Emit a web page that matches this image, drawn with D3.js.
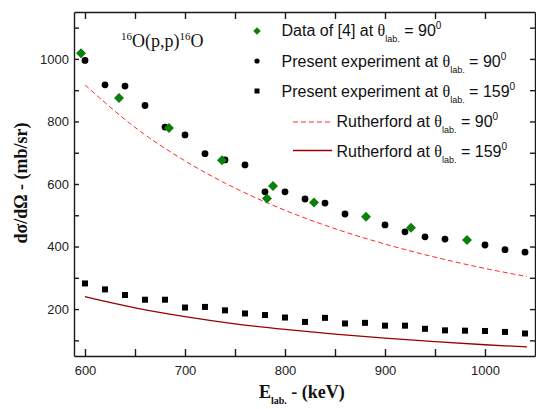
<!DOCTYPE html>
<html>
<head>
<meta charset="utf-8">
<script src="https://cdn.jsdelivr.net/npm/d3@7"></script>
<style>
body { margin: 0; background: #fff; }
</style>
</head>
<body>
<div id="chart-area"></div>
<script>
// dados
var dataE = [596, 634, 684, 737, 782, 788, 829, 881, 926, 982];
var dataV = [1018, 875, 779, 676, 554, 594, 541, 495, 460, 421];

var exp90E = [600, 620, 640, 660, 680, 700, 720, 740, 760, 780, 800, 820, 840, 860, 900, 920, 940, 960, 1000, 1020, 1040];
var exp90V = [995, 917, 913, 851, 782, 757, 697, 677, 661, 575, 575, 552, 539, 504, 469, 447, 431, 424, 405, 390, 382];

var exp159E = [600, 620, 640, 660, 680, 700, 720, 740, 760, 780, 800, 820, 840, 860, 880, 900, 920, 940, 960, 980, 1000, 1020, 1040];
var exp159V = [282, 263, 245, 230, 230, 205, 207, 196, 186, 181, 173, 159, 172, 154, 156, 147, 147, 137, 132, 131, 130, 127, 122];

var rutE = [600, 650, 700, 750, 800, 850, 900, 950, 1000, 1042];
var rut90 = [917, 781, 674, 587, 516, 457, 408, 366, 330, 304];
var rut159 = [240, 204, 176, 153, 135, 120, 107, 96, 86, 79];

var xTicks = [600, 650, 700, 750, 800, 850, 900, 950, 1000];
var yTicks = [100, 200, 300, 400, 500, 600, 700, 800, 900, 1000, 1100];

var svg = d3.select("#chart-area")
			.append("svg")
			.attr("width", 536)
			.attr("height", 409);

var x = d3.scaleLinear().domain([589, 1050]).range([74, 535]);
var y = d3.scaleLinear().domain([50, 1150]).range([356, 12]);

// eixos
function label100(d){ return d % 100 == 0 ? d : ""; }
function label200(d){ return d % 200 == 0 ? d : ""; }

var gx = svg.append("g").attr("transform", "translate(0,356)")
			.call(d3.axisBottom(x).tickValues(xTicks).tickSize(-7).tickSizeOuter(0).tickPadding(10).tickFormat(label100));
var gy = svg.append("g").attr("transform", "translate(74,0)")
			.call(d3.axisLeft(y).tickValues(yTicks).tickSize(-5).tickSizeOuter(0).tickPadding(5).tickFormat(label200));
var gt = svg.append("g").attr("transform", "translate(0,12)")
			.call(d3.axisTop(x).tickValues(xTicks).tickSize(-7).tickSizeOuter(0).tickFormat(""));
var gr = svg.append("g").attr("transform", "translate(535,0)")
			.call(d3.axisRight(y).tickValues(yTicks).tickSize(-5).tickSizeOuter(0).tickFormat(""));

[gx, gy, gt, gr].forEach(function(g){
	g.selectAll("path, line").attr("stroke", "#1a1a1a").attr("stroke-width", 1.4);
	g.selectAll("text").attr("font-family", "Liberation Sans, Arial, sans-serif")
		.attr("font-size", 13).attr("fill", "#222");
});

// curvas de Rutherford
var line90 = d3.line()
			.x(function(d, i){ return x(rutE[i]); })
			.y(function(d){ return y(d); })
			.curve(d3.curveMonotoneX);

svg.append("path")
	.attr("d", line90(rut90))
	.attr("fill", "none")
	.attr("stroke", "#ff2a2a")
	.attr("stroke-width", 1)
	.attr("stroke-dasharray", "5,3");

svg.append("path")
	.attr("d", line90(rut159))
	.attr("fill", "none")
	.attr("stroke", "#990000")
	.attr("stroke-width", 1.3);

// pontos
svg.selectAll("rect.sq")
	.data(exp159V)
	.enter()
	.append("rect")
	.attr("class", "sq")
	.attr("x", function(d, i){ return x(exp159E[i]) - 3; })
	.attr("y", function(d){ return y(d) - 3; })
	.attr("width", 6)
	.attr("height", 6)
	.attr("fill", "#000");

svg.selectAll("circle.c90")
	.data(exp90V)
	.enter()
	.append("circle")
	.attr("class", "c90")
	.attr("cx", function(d, i){ return x(exp90E[i]); })
	.attr("cy", function(d){ return y(d); })
	.attr("r", 3.4)
	.attr("fill", "#000");

var diamond = d3.symbol().type(d3.symbolSquare).size(50);
svg.selectAll("path.dm")
	.data(dataV)
	.enter()
	.append("path")
	.attr("class", "dm")
	.attr("d", diamond)
	.attr("transform", function(d, i){
		return "translate(" + x(dataE[i]) + "," + y(d) + ") rotate(45)";
	})
	.attr("fill", "#0b800b");

// titulo da reacao
var title = svg.append("text")
			.attr("x", 121)
			.attr("y", 47)
			.attr("font-family", "Liberation Serif, Times New Roman, serif")
			.attr("font-size", 18)
			.attr("fill", "#111");
title.append("tspan").attr("font-size", 11).attr("dy", -7).text("16");
title.append("tspan").attr("dy", 7).text("O(p,p)");
title.append("tspan").attr("font-size", 11).attr("dy", -7).text("16");
title.append("tspan").attr("dy", 7).text("O");

// legenda
var legRows = [
	{ txt: "Data of [4] at ", ang: "90", tx: 281.5, y: 36 },
	{ txt: "Present experiment at ", ang: "90", tx: 281.5, y: 67 },
	{ txt: "Present experiment at ", ang: "159", tx: 281.5, y: 97 },
	{ txt: "Rutherford at ", ang: "90", tx: 336.5, y: 127 },
	{ txt: "Rutherford at ", ang: "159", tx: 336.5, y: 157 }
];

legRows.forEach(function(r){
	var t = svg.append("text")
			.attr("x", r.tx)
			.attr("y", r.y)
			.attr("font-family", "Liberation Sans, Arial, sans-serif")
			.attr("font-size", 16)
			.attr("fill", "#111");
	t.append("tspan").text(r.txt);
	t.append("tspan").attr("font-family", "Liberation Serif, Times New Roman, serif").text("θ");
	t.append("tspan").attr("font-size", 9).attr("dy", 6).text("lab.");
	t.append("tspan").attr("dy", -6).text(" = " + r.ang);
	t.append("tspan").attr("font-size", 10).attr("dy", -7).text("0");
});

svg.append("path")
	.attr("d", d3.symbol().type(d3.symbolSquare).size(28))
	.attr("transform", "translate(257,31) rotate(45)")
	.attr("fill", "#0b800b");
svg.append("circle").attr("cx", 257).attr("cy", 61).attr("r", 2.6).attr("fill", "#000");
svg.append("rect").attr("x", 254.5).attr("y", 88.5).attr("width", 5).attr("height", 5).attr("fill", "#000");
svg.append("line").attr("x1", 293).attr("x2", 332).attr("y1", 122).attr("y2", 122)
	.attr("stroke", "#ff2a2a").attr("stroke-width", 1.2).attr("stroke-dasharray", "5,3");
svg.append("line").attr("x1", 293).attr("x2", 332).attr("y1", 150.5).attr("y2", 150.5)
	.attr("stroke", "#990000").attr("stroke-width", 1.3);

// titulos dos eixos
var xl = svg.append("text")
			.attr("x", 259)
			.attr("y", 398)
			.attr("font-family", "Liberation Serif, Times New Roman, serif")
			.attr("font-weight", "bold")
			.attr("font-size", 18)
			.attr("fill", "#111");
xl.append("tspan").text("E");
xl.append("tspan").attr("font-size", 10).attr("dy", 6).text("lab.");
xl.append("tspan").attr("dy", -6).text(" - (keV)");

svg.append("text")
	.attr("transform", "translate(27,183) rotate(-90)")
	.attr("text-anchor", "middle")
	.attr("font-family", "Liberation Serif, Times New Roman, serif")
	.attr("font-weight", "bold")
	.attr("font-size", 18)
	.attr("fill", "#111")
	.text("dσ/dΩ - (mb/sr)");
</script>
</body>
</html>
